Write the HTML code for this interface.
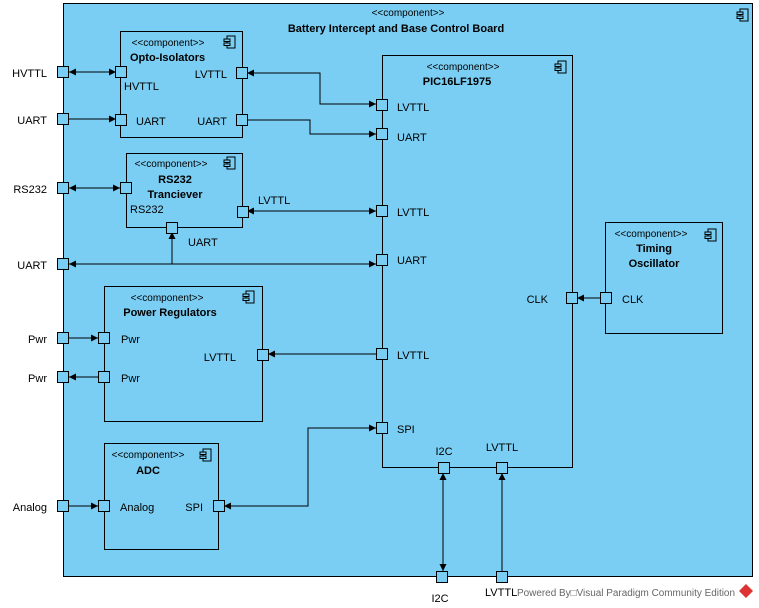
<!DOCTYPE html>
<html><head><meta charset="utf-8"><style>
html,body{margin:0;padding:0;background:#fff;}
svg{display:block;font-family:"Liberation Sans",Arial,sans-serif;}
text{font-size:11px;fill:#000;}
.st{font-size:10px;}
.b{font-weight:bold;}
</style></head><body>
<svg width="759" height="608" viewBox="0 0 759 608" xmlns="http://www.w3.org/2000/svg">
<defs>
<marker id="a" markerUnits="userSpaceOnUse" markerWidth="8" markerHeight="8" refX="7" refY="4" orient="auto-start-reverse"><path d="M0,0.5 L7,4 L0,7.5 z" fill="#000"/></marker>
<g id="ic" fill="none" stroke="#000" stroke-width="1"><rect x="3" y="0" width="8" height="12"/><rect x="0" y="3" width="6" height="2.5" fill="#7ACEF3"/><rect x="0" y="7" width="6" height="2.5" fill="#7ACEF3"/></g>
</defs>
<rect x="63.5" y="3.5" width="689" height="573" fill="#7ACEF3" stroke="#000"/>
<use href="#ic" x="737" y="9"/>
<text x="408" y="16" text-anchor="middle" class="st">&lt;&lt;component&gt;&gt;</text>
<text x="396" y="32" text-anchor="middle" class="b">Battery Intercept and Base Control Board</text>

<g fill="none" stroke="#000">
<rect x="120.5" y="31.5" width="122" height="106"/>
<rect x="126.5" y="153.5" width="116" height="74"/>
<rect x="382.5" y="55.5" width="190" height="412"/>
<rect x="605.5" y="222.5" width="117" height="111"/>
<rect x="104.5" y="286.5" width="158" height="135"/>
<rect x="104.5" y="443.5" width="114" height="106"/>
</g>
<use href="#ic" x="224" y="36"/>
<use href="#ic" x="224" y="157"/>
<use href="#ic" x="555" y="61"/>
<use href="#ic" x="705" y="229"/>
<use href="#ic" x="243" y="291"/>
<use href="#ic" x="200" y="449"/>

<text x="168" y="46" text-anchor="middle" class="st">&lt;&lt;component&gt;&gt;</text>
<text x="130" y="61" class="b">Opto-Isolators</text>
<text x="171" y="167" text-anchor="middle" class="st">&lt;&lt;component&gt;&gt;</text>
<text x="175" y="183" text-anchor="middle" class="b">RS232</text>
<text x="175" y="198" text-anchor="middle" class="b">Tranciever</text>
<text x="463" y="70" text-anchor="middle" class="st">&lt;&lt;component&gt;&gt;</text>
<text x="457" y="85" text-anchor="middle" class="b">PIC16LF1975</text>
<text x="651" y="237" text-anchor="middle" class="st">&lt;&lt;component&gt;&gt;</text>
<text x="654" y="252" text-anchor="middle" class="b">Timing</text>
<text x="654" y="267" text-anchor="middle" class="b">Oscillator</text>
<text x="167" y="301" text-anchor="middle" class="st">&lt;&lt;component&gt;&gt;</text>
<text x="170" y="316" text-anchor="middle" class="b">Power Regulators</text>
<text x="148" y="458" text-anchor="middle" class="st">&lt;&lt;component&gt;&gt;</text>
<text x="148" y="474" text-anchor="middle" class="b">ADC</text>

<g fill="none" stroke="#000" marker-end="url(#a)">
<path d="M69,72 H116" marker-start="url(#a)"/>
<path d="M247,73 H320 V104 H376" marker-start="url(#a)"/>
<path d="M247,120 H310 V134 H376"/>
<path d="M69,119 H116"/>
<path d="M69,188 H120" marker-start="url(#a)"/>
<path d="M247,211 H376" marker-start="url(#a)"/>
<path d="M69,264 H376" marker-start="url(#a)"/>
<path d="M172,264 V232"/>
<path d="M69,338 H98"/>
<path d="M98,377 H69"/>
<path d="M376,354 H268"/>
<path d="M69,506 H98"/>
<path d="M224,506 H308 V428 H376" marker-start="url(#a)"/>
<path d="M600,298 H577"/>
<path d="M443,571 V473" marker-start="url(#a)"/>
<path d="M502,571 V473"/>
</g>

<g fill="#7ACEF3" stroke="#000">
<rect x="57.5" y="66.5" width="11" height="11"/>
<rect x="57.5" y="113.5" width="11" height="11"/>
<rect x="57.5" y="182.5" width="11" height="11"/>
<rect x="57.5" y="258.5" width="11" height="11"/>
<rect x="57.5" y="332.5" width="11" height="11"/>
<rect x="57.5" y="371.5" width="11" height="11"/>
<rect x="57.5" y="500.5" width="11" height="11"/>
<rect x="436.5" y="571.5" width="11" height="11"/>
<rect x="496.5" y="571.5" width="11" height="11"/>
<rect x="115.5" y="66.5" width="11" height="11"/>
<rect x="115.5" y="114.5" width="11" height="11"/>
<rect x="236.5" y="67.5" width="11" height="11"/>
<rect x="236.5" y="114.5" width="11" height="11"/>
<rect x="120.5" y="182.5" width="11" height="11"/>
<rect x="237.5" y="206.5" width="11" height="11"/>
<rect x="166.5" y="222.5" width="11" height="11"/>
<rect x="376.5" y="99.5" width="11" height="11"/>
<rect x="376.5" y="128.5" width="11" height="11"/>
<rect x="376.5" y="205.5" width="11" height="11"/>
<rect x="376.5" y="254.5" width="11" height="11"/>
<rect x="376.5" y="348.5" width="11" height="11"/>
<rect x="376.5" y="422.5" width="11" height="11"/>
<rect x="566.5" y="292.5" width="11" height="11"/>
<rect x="600.5" y="292.5" width="11" height="11"/>
<rect x="438.5" y="462.5" width="11" height="11"/>
<rect x="496.5" y="462.5" width="11" height="11"/>
<rect x="98.5" y="332.5" width="11" height="11"/>
<rect x="98.5" y="371.5" width="11" height="11"/>
<rect x="257.5" y="349.5" width="11" height="11"/>
<rect x="98.5" y="500.5" width="11" height="11"/>
<rect x="213.5" y="500.5" width="11" height="11"/>
</g>

<text x="47" y="77" text-anchor="end">HVTTL</text>
<text x="47" y="124" text-anchor="end">UART</text>
<text x="47" y="193" text-anchor="end">RS232</text>
<text x="47" y="269" text-anchor="end">UART</text>
<text x="47" y="343" text-anchor="end">Pwr</text>
<text x="47" y="382" text-anchor="end">Pwr</text>
<text x="47" y="511" text-anchor="end">Analog</text>
<text x="124" y="90">HVTTL</text>
<text x="136" y="125">UART</text>
<text x="227" y="78" text-anchor="end">LVTTL</text>
<text x="227" y="125" text-anchor="end">UART</text>
<text x="130" y="213">RS232</text>
<text x="258" y="204">LVTTL</text>
<text x="188" y="246">UART</text>
<text x="397" y="111">LVTTL</text>
<text x="397" y="141">UART</text>
<text x="397" y="216">LVTTL</text>
<text x="397" y="264">UART</text>
<text x="397" y="359">LVTTL</text>
<text x="397" y="433">SPI</text>
<text x="548" y="303" text-anchor="end">CLK</text>
<text x="622" y="303">CLK</text>
<text x="444" y="455" text-anchor="middle">I2C</text>
<text x="502" y="451" text-anchor="middle">LVTTL</text>
<text x="440" y="602" text-anchor="middle">I2C</text>
<text x="121" y="343">Pwr</text>
<text x="121" y="382">Pwr</text>
<text x="236" y="361" text-anchor="end">LVTTL</text>
<text x="120" y="511">Analog</text>
<text x="203" y="511" text-anchor="end">SPI</text>
<text x="485" y="596">LVTTL</text>
<text x="517" y="596" style="font-size:10px;fill:#666" textLength="218" lengthAdjust="spacingAndGlyphs">Powered By□Visual Paradigm Community Edition</text>
<path d="M746,584 L753,591 L746,598 L739,591 z" fill="#d33"/>
</svg>
</body></html>
